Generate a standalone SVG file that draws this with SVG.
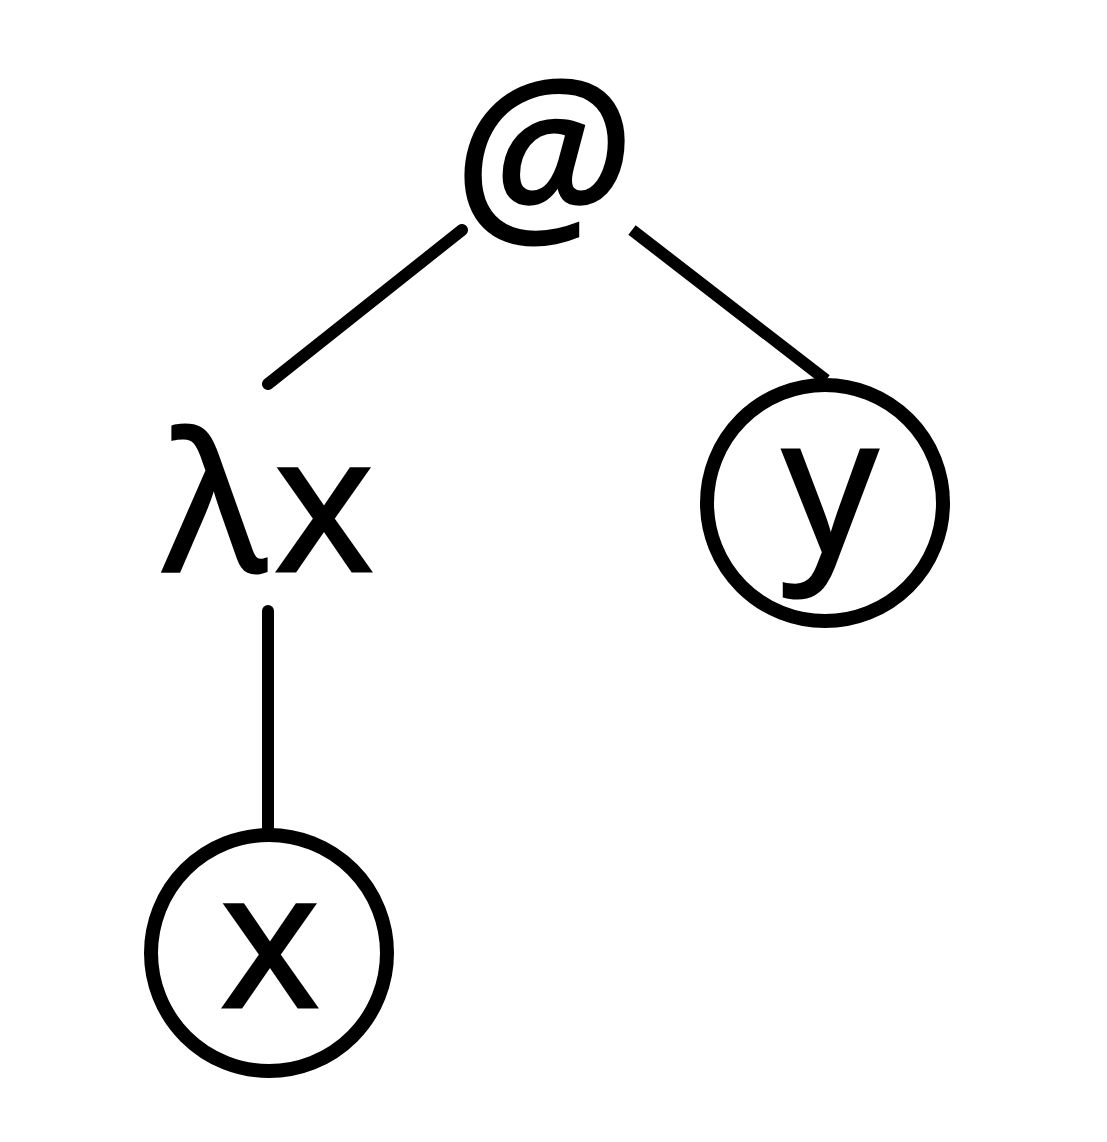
<svg xmlns="http://www.w3.org/2000/svg" width="1107" height="1142" viewBox="0 0 1107 1142">
  <style>
    .edge { stroke: #000; stroke-width: 12; fill: none; }
    .ring { stroke: #000; stroke-width: 14; fill: #fff; }
    .lbl { font-family: "Open Sans", "Noto Sans", sans-serif; font-size: 190px; fill: #000; stroke: #000; stroke-width: 3; text-anchor: middle; }
    .app { font-family: "Open Sans", "Noto Sans", sans-serif; font-style: italic; font-size: 205px; fill: #000; stroke: #000; stroke-width: 3; }
  </style>
  <rect width="1107" height="1142" fill="#fff"/>
  <g id="edges">
    <path class="edge" d="M462,230 L268,384" stroke-linecap="round"/>
    <path class="edge" d="M632,230 L826,380"/>
    <path class="edge" d="M268,611 L268,830" stroke-linecap="round"/>
  </g>
  <g id="node-app">
    <text class="app" x="455" y="226">@</text>
  </g>
  <g id="node-lambda">
    <text class="lbl" y="571"><tspan x="215">λ</tspan><tspan x="324">x</tspan></text>
  </g>
  <g id="node-y">
    <circle class="ring" cx="825" cy="503" r="118"/>
    <text class="lbl" x="830" y="552">y</text>
  </g>
  <g id="node-x">
    <circle class="ring" cx="269" cy="953" r="118"/>
    <text class="lbl" x="270" y="1007">x</text>
  </g>
</svg>
